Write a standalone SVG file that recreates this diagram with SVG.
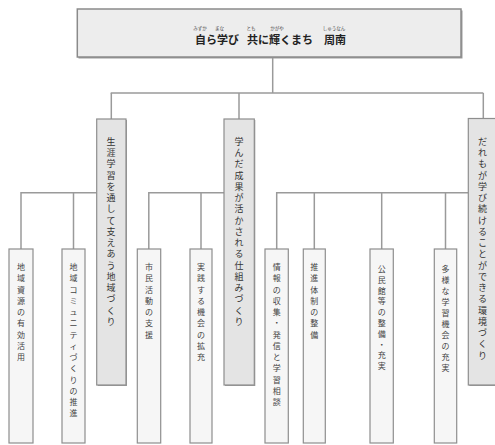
<svg xmlns="http://www.w3.org/2000/svg" width="495" height="445" viewBox="0 0 495 445">
<style>
.conn{stroke:#9a9a9a;stroke-width:1.5;fill:none}
.shadow{fill:#9c9c9c}
.main rect.box{fill:#e4e4e4;stroke:#8e8e8e;stroke-width:1.2}
.leaf rect.box{fill:#f6f6f6;stroke:#8e8e8e;stroke-width:1.2}
.title rect.box{fill:#ededed;stroke:#8a8a8a;stroke-width:1.5}
.vt{font-family:"Noto Sans CJK JP","Noto Sans CJK SC",sans-serif;fill:#333;text-anchor:middle}
.mt{font-size:9px}
.lt{font-size:8px;fill:#444}
.tt{font-family:"Noto Sans CJK JP",sans-serif;font-weight:bold;font-size:11px;fill:#222}
.rb{font-family:"Noto Sans CJK JP",sans-serif;font-size:4.5px;fill:#444;text-anchor:middle}
</style>
<rect width="495" height="445" fill="#ffffff"/>

<g id="connectors">
<line class="conn" x1="272.7" y1="57" x2="272.7" y2="93"/>
<line class="conn" x1="110.7" y1="93" x2="483.3" y2="93"/>
<line class="conn" x1="111.3" y1="93" x2="111.3" y2="119"/>
<line class="conn" x1="239" y1="93" x2="239" y2="119"/>
<line class="conn" x1="483.3" y1="93" x2="483.3" y2="118.5"/>
<polyline class="conn" points="21,249 21,192.7 96.7,192.7"/>
<line class="conn" x1="73.5" y1="192.7" x2="73.5" y2="249"/>
<polyline class="conn" points="148.8,249 148.8,192.7 224,192.7"/>
<line class="conn" x1="201" y1="192.7" x2="201" y2="249"/>
<polyline class="conn" points="276.7,249 276.7,192.7 468.3,192.7"/>
<line class="conn" x1="314.3" y1="192.7" x2="314.3" y2="249"/>
<line class="conn" x1="381.7" y1="192.7" x2="381.7" y2="249"/>
<line class="conn" x1="445.5" y1="192.7" x2="445.5" y2="249"/>
</g>

<g id="title" class="title">
<rect class="shadow" x="78.5" y="10.5" width="384" height="48"/>
<rect class="box" x="77.3" y="9" width="383.7" height="48"/>
<text class="tt" x="195" y="43.5">自ら学び</text>
<text class="tt" x="247" y="43.5">共に輝くまち</text>
<text class="tt" x="324" y="43.5">周南</text>
<text class="rb" x="200" y="30">みずか</text>
<text class="rb" x="219.5" y="30">まな</text>
<text class="rb" x="251" y="30">とも</text>
<text class="rb" x="277" y="30">かがや</text>
<text class="rb" x="334" y="30">しゅうなん</text>
</g>

<g id="main1" class="main">
<rect class="shadow" x="97.7" y="120" width="29.3" height="266"/>
<rect class="box" x="96.7" y="119" width="29.3" height="266"/>
<text class="vt mt" x="111 111 111 111 111 111 111 111 111 111 111 111 111 111 111 111 111" y="144.8 156.05 167.3 178.55 189.8 201.05 212.3 223.55 234.8 246.05 257.3 268.55 279.8 291.05 302.3 313.55 324.8">生涯学習を通して支えあう地域づくり</text>
</g>
<g id="main2" class="main">
<rect class="shadow" x="225" y="120" width="30.3" height="266"/>
<rect class="box" x="224" y="119" width="30.3" height="266"/>
<text class="vt mt" x="239 239 239 239 239 239 239 239 239 239 239 239 239 239 239 239 239" y="144.8 156.05 167.3 178.55 189.8 201.05 212.3 223.55 234.8 246.05 257.3 268.55 279.8 291.05 302.3 313.55 324.8">学んだ成果が活かされる仕組みづくり</text>
</g>
<g id="main3" class="main">
<rect class="shadow" x="469.3" y="119.5" width="30" height="266.5"/>
<rect class="box" x="468.3" y="118.5" width="30" height="266.5"/>
<text class="vt mt" x="482.5 482.5 482.5 482.5 482.5 482.5 482.5 482.5 482.5 482.5 482.5 482.5 482.5 482.5 482.5 482.5 482.5 482.5 482.5 482.5" y="144.8 156.05 167.3 178.55 189.8 201.05 212.3 223.55 234.8 246.05 257.3 268.55 279.8 291.05 302.3 313.55 324.8 336.05 347.3 358.55">だれもが学び続けることができる環境づくり</text>
</g>

<g id="leaf1" class="leaf">
<rect class="box" x="9" y="249" width="24" height="194"/>
<text class="vt lt" x="21 21 21 21 21 21 21 21 21" y="270 281.25 292.5 303.75 315 326.25 337.5 348.75 360">地域資源の有効活用</text>
</g>
<g id="leaf2" class="leaf">
<rect class="box" x="62" y="249" width="23" height="194"/>
<text class="vt lt" x="73.5 73.5 73.5 73.5 73.5 73.5 73.5 73.5 73.5 73.5 73.5 73.5 73.5 73.5" y="270 281.25 292.5 303.75 315 326.25 337.5 348.75 360 371.25 382.5 393.75 405 416.25">地域コミュニティづくりの推進</text>
</g>
<g id="leaf3" class="leaf">
<rect class="box" x="137.3" y="249" width="23.4" height="194"/>
<text class="vt lt" x="149 149 149 149 149 149 149" y="270 281.25 292.5 303.75 315 326.25 337.5">市民活動の支援</text>
</g>
<g id="leaf4" class="leaf">
<rect class="box" x="190" y="249" width="22" height="194"/>
<text class="vt lt" x="201 201 201 201 201 201 201 201 201" y="270 281.25 292.5 303.75 315 326.25 337.5 348.75 360">実践する機会の拡充</text>
</g>
<g id="leaf5" class="leaf">
<rect class="box" x="265" y="249" width="23.3" height="194"/>
<text class="vt lt" x="276.7 276.7 276.7 276.7 276.7 276.7 276.7 276.7 276.7 276.7 276.7 276.7 276.7" y="270 281.25 292.5 303.75 315 326.25 337.5 348.75 360 371.25 382.5 393.75 405">情報の収集・発信と学習相談</text>
</g>
<g id="leaf6" class="leaf">
<rect class="box" x="303.3" y="249" width="22" height="194"/>
<text class="vt lt" x="314.3 314.3 314.3 314.3 314.3 314.3 314.3" y="270 281.25 292.5 303.75 315 326.25 337.5">推進体制の整備</text>
</g>
<g id="leaf7" class="leaf">
<rect class="box" x="370" y="249" width="23.3" height="194"/>
<text class="vt lt" x="381.7 381.7 381.7 381.7 381.7 381.7 381.7 381.7 381.7 381.7" y="272 282.8 293.6 304.4 315.2 326 336.8 347.6 358.4 369.2">公民館等の整備・充実</text>
</g>
<g id="leaf8" class="leaf">
<rect class="box" x="434.3" y="249" width="22.4" height="194"/>
<text class="vt lt" x="445.5 445.5 445.5 445.5 445.5 445.5 445.5 445.5 445.5 445.5" y="272 283 294 305 316 327 338 349 360 371">多様な学習機会の充実</text>
</g>
</svg>
